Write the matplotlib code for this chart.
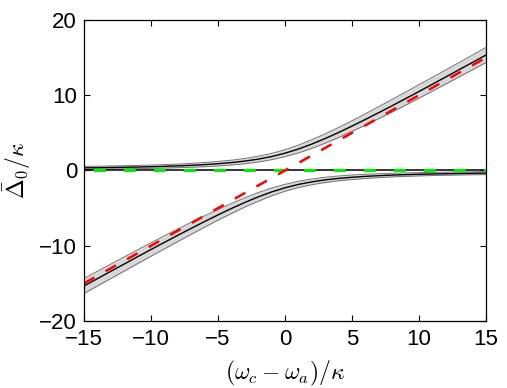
import numpy as np
import matplotlib; matplotlib.use("Agg"); import matplotlib.pyplot as plt

# values (detuning in units of kappa)
x = [-15, -14, -13, -12, -11, -10, -9, -8, -7, -6, -5, -4, -3, -2, -1, 0,
     1, 2, 3, 4, 5, 6, 7, 8, 9, 10, 11, 12, 13, 14, 15]
upper = [0.35, 0.37, 0.40, 0.43, 0.46, 0.50, 0.55, 0.61, 0.69, 0.78, 0.90, 1.05, 1.25, 1.51, 1.85, 2.30,
         2.85, 3.51, 4.25, 5.05, 5.90, 6.78, 7.69, 8.61, 9.55, 10.50, 11.46, 12.43, 13.40, 14.37, 15.35]
lower = [-15.35, -14.37, -13.40, -12.43, -11.46, -10.50, -9.55, -8.61, -7.69, -6.78, -5.90, -5.05, -4.25, -3.51, -2.85, -2.30,
         -1.85, -1.51, -1.25, -1.05, -0.90, -0.78, -0.69, -0.61, -0.55, -0.50, -0.46, -0.43, -0.40, -0.37, -0.35]
# half width of the grey band for the upper branch (lower branch is the mirror image)
hw_up = [0.20, 0.20, 0.20, 0.21, 0.21, 0.22, 0.23, 0.24, 0.26, 0.28, 0.30, 0.32, 0.35, 0.38, 0.42, 0.46,
         0.52, 0.58, 0.62, 0.67, 0.71, 0.76, 0.80, 0.84, 0.87, 0.90, 0.92, 0.94, 0.96, 0.98, 1.00]
hw_lo = hw_up[::-1]
diag_x = [-15, 15]
diag_y = [-15, 15]
zero_x = [-15, 15]
zero_y = [0, 0]

plt.rcParams["font.family"] = ["Liberation Sans", "DejaVu Sans"]
plt.rcParams["mathtext.fontset"] = "cm"
plt.rcParams["lines.scale_dashes"] = False

x = np.array(x); up = np.array(upper); lo = np.array(lower)
hu = np.array(hw_up); hl = np.array(hw_lo)

fig = plt.figure(figsize=(5.07, 3.88), dpi=100)
ax = fig.add_axes([0.1657, 0.1727, 0.7929, 0.7758])

for c, h in ((up, hu), (lo, hl)):
    ax.fill_between(x, c - h, c + h, color="#d8d8d8", lw=0)
    ax.plot(x, c - h, color="0.45", lw=0.7)
    ax.plot(x, c + h, color="0.45", lw=0.7)
    ax.plot(x, c, color="black", lw=1.0)

ax.plot(zero_x, zero_y, color="black", lw=1.1)
ax.plot(zero_x, zero_y, color="#00ee00", lw=2.2, linestyle=(14.9, (8.6, 13)))
ax.plot(diag_x, diag_y, color="red", lw=1.8, linestyle=(0, (8.6, 9.2)))

ax.set_xlim(-15, 15); ax.set_ylim(-20, 20)
ax.set_xticks(np.arange(-15, 16, 5)); ax.set_yticks(np.arange(-20, 21, 10))
ax.tick_params(direction="in", top=True, right=True, labelsize=16, length=4, width=0.8)
ax.tick_params(axis="x", pad=6)
ax.tick_params(axis="y", pad=5)
for s in ax.spines.values(): s.set_linewidth(0.9)
ax.set_xlabel(r"$(\omega_c-\omega_a)/\kappa$", fontsize=17, labelpad=6)
ax.set_ylabel(r"$\bar{\Delta}_0/\kappa$", fontsize=17)
ax.yaxis.set_label_coords(-0.128, 0.5)

fig.savefig("out.png", dpi=100)
